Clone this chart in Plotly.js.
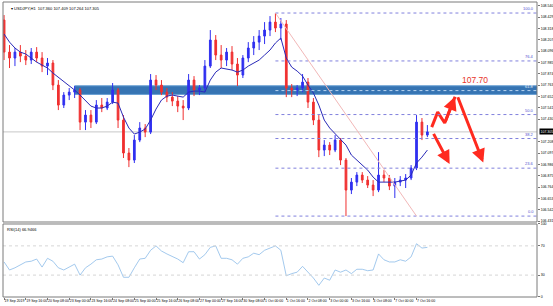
<!DOCTYPE html>
<html><head><meta charset="utf-8">
<script src="https://cdn.plot.ly/plotly-3.0.1.min.js"></script>
<style>html,body{margin:0;padding:0;background:#fff}#chart{width:553px;height:306px}</style>
</head><body><div id="chart"></div>
<script>
const symbolTitle = "USDJPY,H1  107.360 107.409 107.264 107.305";
const rsiTitle = "RSI(14) 66.9466";
const tickLabels = ["19 Sep 2019","19 Sep 16:00","20 Sep 08:00","23 Sep 00:00","23 Sep 16:00","24 Sep 08:00","25 Sep 00:00","25 Sep 16:00","26 Sep 08:00","27 Sep 00:00","27 Sep 16:00","30 Sep 08:00","1 Oct 00:00","1 Oct 16:00","2 Oct 08:00","3 Oct 00:00","3 Oct 16:00","4 Oct 08:00","7 Oct 00:00","7 Oct 16:00"];
const barsPerLabel = 4;

const open = [108.401,108.087,108.029,108.087,108.048,108.009,108.087,108.029,107.950,107.980,
107.764,107.568,107.666,107.695,107.715,107.401,107.470,107.401,107.568,107.539,
107.597,107.715,107.421,107.098,107.029,107.225,107.343,107.303,107.813,107.764,
107.695,107.646,107.607,107.558,107.539,107.813,107.715,107.735,107.950,108.205,
108.058,108.009,108.087,107.970,107.862,108.029,108.127,108.185,108.244,108.303,
108.381,108.323,108.362,107.735,107.715,107.735,107.793,107.597,107.421,107.127,
107.176,107.127,107.225,107.029,106.735,106.813,106.882,106.833,106.784,106.735,
106.882,106.853,106.774,106.813,106.833,106.853,106.951,107.401,107.274];
const high = [108.450,108.156,108.127,108.156,108.107,108.127,108.136,108.087,108.029,108.009,
107.813,107.695,107.735,107.754,107.735,107.519,107.519,107.617,107.637,107.637,
107.784,107.735,107.470,107.147,107.274,107.401,107.382,107.872,107.862,107.813,
107.735,107.695,107.656,107.617,107.872,107.852,107.764,108.009,108.303,108.254,
108.156,108.127,108.146,108.029,108.058,108.185,108.244,108.303,108.381,108.440,
108.470,108.421,108.401,107.774,107.764,107.872,107.833,107.637,107.470,107.225,
107.205,107.274,107.245,107.049,106.853,106.911,106.911,106.872,106.833,107.107,
106.931,106.882,106.853,106.872,106.892,106.980,107.470,107.441,107.372];
const low = [108.009,107.931,107.950,107.989,107.960,107.970,107.989,107.891,107.862,107.715,
107.519,107.539,107.617,107.637,107.323,107.323,107.343,107.382,107.499,107.519,
107.578,107.343,107.049,106.960,107.000,107.205,107.254,107.284,107.715,107.666,
107.597,107.558,107.499,107.421,107.519,107.656,107.666,107.695,107.931,108.009,
107.931,107.950,107.911,107.754,107.833,107.989,108.058,108.107,108.166,108.244,
108.283,108.205,107.646,107.646,107.656,107.695,107.539,107.372,107.058,107.068,
107.078,107.107,106.980,106.480,106.696,106.774,106.804,106.755,106.676,106.715,
106.813,106.735,106.657,106.774,106.755,106.833,106.931,107.225,107.254];
const close = [108.087,108.029,108.087,108.048,108.009,108.087,108.029,107.950,107.980,107.764,
107.568,107.666,107.695,107.715,107.401,107.470,107.401,107.568,107.539,107.597,
107.715,107.421,107.098,107.029,107.225,107.343,107.303,107.813,107.764,107.695,
107.646,107.607,107.558,107.539,107.813,107.715,107.735,107.950,108.205,108.058,
108.009,108.087,107.970,107.862,108.029,108.127,108.185,108.244,108.303,108.381,
108.323,108.362,107.735,107.715,107.735,107.793,107.597,107.421,107.127,107.176,
107.127,107.225,107.029,106.735,106.813,106.882,106.833,106.784,106.735,106.882,
106.853,106.774,106.813,106.833,106.853,106.951,107.401,107.274,107.305];
const ma = [108.264,108.185,108.127,108.087,108.068,108.029,107.989,107.960,107.931,107.882,
107.842,107.793,107.754,107.715,107.666,107.607,107.558,107.539,107.539,107.558,
107.597,107.587,107.450,107.343,107.284,107.303,107.333,107.421,107.529,107.617,
107.656,107.666,107.656,107.646,107.695,107.705,107.705,107.695,107.813,107.891,
107.931,107.921,107.911,107.891,107.911,107.950,107.980,108.009,108.058,108.107,
108.176,108.225,108.029,107.940,107.901,107.852,107.764,107.686,107.568,107.421,
107.343,107.284,107.235,107.176,107.078,107.029,106.980,106.931,106.862,106.813,
106.813,106.813,106.813,106.823,106.833,106.882,107.000,107.058,107.127];
const rsi = [48,37,40,44,48,49,52,41,53,49,
40,37,41,45,30,40,45,51,52,55,
56,44,27,27,40,52,53,64,70,63,
59,56,52,47,62,62,52,58,68,70,
53,53,51,45,53,55,60,58,64,67,
70,64,29,32,34,42,34,26,16,26,
23,37,34,37,32,38,38,36,37,59,
51,48,48,51,49,55,73,67,68];

const priceTicks = [108.540,108.429,108.318,108.207,108.096,107.985,107.874,107.763,107.652,107.541,107.430,107.208,107.097,106.986,106.875,106.764,106.653,106.542,106.431];
const rsiTicks = [0,30,70,100];
const rsiLevels = [30,70];
const fibRatios = [0,23.6,38.2,50,61.8,76.4,100];
const fibEndBar = 76;
const zoneLow = 107.672, zoneHigh = 107.757, zoneStartBar = 13;
const targetLabel = "107.70";
const targetPos = {bar: 86.7, price: 107.813};
// projected path (drawn arrows)
const zigBars = [78.8, 79.9, 81.2, 83.1];
const zigPrices = [107.352, 107.499, 107.392, 107.650];
const longDown = {fromBar: 83.5, fromPrice: 107.660, toBar: 88.3, toPrice: 107.005};
const shortDown = {fromBar: 79.0, fromPrice: 107.300, toBar: 82.1, toPrice: 106.990};

const idx = close.map((_, i) => i);
const hi = Math.max(...high), lo = Math.min(...low);
const peakBar = high.indexOf(hi);
const last = close[close.length - 1];
const FONT = "Liberation Sans, Arial, sans-serif";
const red = "#ff2a1f";
const TINY = 3.5;

const traces = [
  {type: "candlestick", x: idx, open: open, high: high, low: low, close: close,
   xaxis: "x", yaxis: "y", whiskerwidth: 0, hoverinfo: "skip",
   increasing: {line: {color: "#3030f0", width: 1}, fillcolor: "#3030f0"},
   decreasing: {line: {color: "#f03030", width: 1}, fillcolor: "#f03030"}},
  {type: "scatter", mode: "lines", x: idx, y: ma, xaxis: "x", yaxis: "y",
   line: {color: "#2a2ab8", width: 1}, hoverinfo: "skip"},
  {type: "scatter", mode: "lines", x: zigBars, y: zigPrices, xaxis: "x", yaxis: "y",
   line: {color: red, width: 3}, hoverinfo: "skip"},
  {type: "scatter", mode: "lines", x: idx, y: rsi, xaxis: "x", yaxis: "y2",
   line: {color: "#8cbbe8", width: 0.8}, hoverinfo: "skip"}
];

const shapes = [];
shapes.push({type: "line", xref: "paper", x0: 0, x1: 1, yref: "y", y0: last, y1: last,
  line: {color: "#c8c8c8", width: 1}, layer: "below"});
shapes.push({type: "rect", xref: "x", x0: zoneStartBar, x1: 200, yref: "y", y0: zoneLow, y1: zoneHigh,
  fillcolor: "#3674b3", line: {color: "#6aa0d4", width: 1}, layer: "below"});
fibRatios.forEach(r => {
  const v = lo + r / 100 * (hi - lo);
  shapes.push({type: "line", xref: "x", x0: peakBar, x1: 200, yref: "y", y0: v, y1: v,
    line: {color: r === 61.8 ? "#b8d4f0" : "#8080dd", width: 1, dash: "dot"}});
});
shapes.push({type: "line", xref: "x", x0: peakBar, x1: fibEndBar, yref: "y", y0: hi, y1: lo,
  line: {color: "#f2b8b8", width: 1}});
rsiLevels.forEach(v => shapes.push({type: "line", xref: "paper", x0: 0, x1: 1, yref: "y2", y0: v, y1: v,
  line: {color: "#d6d6d6", width: 1, dash: "dot"}}));
shapes.push({type: "rect", xref: "paper", x0: 0, x1: 1, yref: "y domain", y0: 0, y1: 1,
  line: {color: "#7a7a7a", width: 1}});
shapes.push({type: "rect", xref: "paper", x0: 0, x1: 1, yref: "y2 domain", y0: 0, y1: 1,
  line: {color: "#7a7a7a", width: 1}});

const annotations = [];
annotations.push({xref: "paper", yref: "paper", x: 0.012, y: 0.993, xanchor: "left", yanchor: "top",
  text: "▾ " + symbolTitle, showarrow: false, font: {family: FONT, size: 4, color: "#000"}});
annotations.push({xref: "paper", yref: "y2 domain", x: 0.004, y: 0.99, xanchor: "left", yanchor: "top",
  text: rsiTitle, showarrow: false, font: {family: FONT, size: 4, color: "#000"}});
fibRatios.forEach(r => {
  const v = lo + r / 100 * (hi - lo);
  annotations.push({xref: "paper", yref: "y", x: 0.998, y: v, xanchor: "right", yanchor: "bottom",
    text: r.toFixed(1), showarrow: false, font: {family: FONT, size: 4, color: r === 61.8 ? "#e8f0ff" : "#5050d0"}});
});
annotations.push({xref: "paper", yref: "y", x: 1.004, y: last, xanchor: "left", yanchor: "middle",
  text: last.toFixed(3), showarrow: false, bgcolor: "#000", borderpad: 0.5,
  font: {family: FONT, size: TINY, color: "#fff"}});
annotations.push({xref: "x", yref: "y", x: targetPos.bar, y: targetPos.price, text: targetLabel,
  showarrow: false, font: {family: FONT, size: 8.5, color: "#e8352a"}});
const arrowOf = (x0, y0, x1, y1) => ({xref: "x", yref: "y", axref: "x", ayref: "y",
  x: x1, y: y1, ax: x0, ay: y0, text: "", showarrow: true, arrowhead: 2, arrowsize: 0.9,
  arrowwidth: 3, arrowcolor: red, standoff: 0, startstandoff: 0});
const n = zigBars.length;
annotations.push(arrowOf(zigBars[n - 2], zigPrices[n - 2], zigBars[n - 1], zigPrices[n - 1]));
annotations.push(arrowOf(longDown.fromBar, longDown.fromPrice, longDown.toBar, longDown.toPrice));
annotations.push(arrowOf(shortDown.fromBar, shortDown.fromPrice, shortDown.toBar, shortDown.toPrice));

const layout = {
  width: 553, height: 306,
  margin: {l: 3, r: 16, t: 2, b: 9},
  paper_bgcolor: "#fff", plot_bgcolor: "#fff",
  showlegend: false,
  boxgap: 0.55,
  font: {family: FONT, size: TINY, color: "#000"},
  xaxis: {anchor: "y2", range: [-0.2, 98.2], showgrid: false, zeroline: false,
    tickvals: tickLabels.map((_, k) => k * barsPerLabel), ticktext: tickLabels, tickangle: 0,
    ticks: "outside", ticklen: 2, tickcolor: "#777", ticklabelposition: "outside right",
    tickfont: {family: FONT, size: TINY, color: "#000"}, rangeslider: {visible: false},
    showline: false, fixedrange: true},
  yaxis: {domain: [0.2542, 1], range: [106.422, 108.578], side: "right", showgrid: false, zeroline: false,
    tickvals: priceTicks, ticktext: priceTicks.map(v => v.toFixed(3)),
    ticks: "outside", ticklen: 2, tickcolor: "#777", tickfont: {family: FONT, size: TINY, color: "#000"}},
  yaxis2: {domain: [0, 0.2475], range: [0, 100], side: "right", showgrid: false, zeroline: false,
    tickvals: rsiTicks, ticktext: rsiTicks.map(String),
    ticks: "outside", ticklen: 2, tickcolor: "#777", tickfont: {family: FONT, size: TINY, color: "#000"}},
  shapes: shapes, annotations: annotations
};
Plotly.newPlot("chart", traces, layout, {displayModeBar: false, staticPlot: true});
</script></body></html>
